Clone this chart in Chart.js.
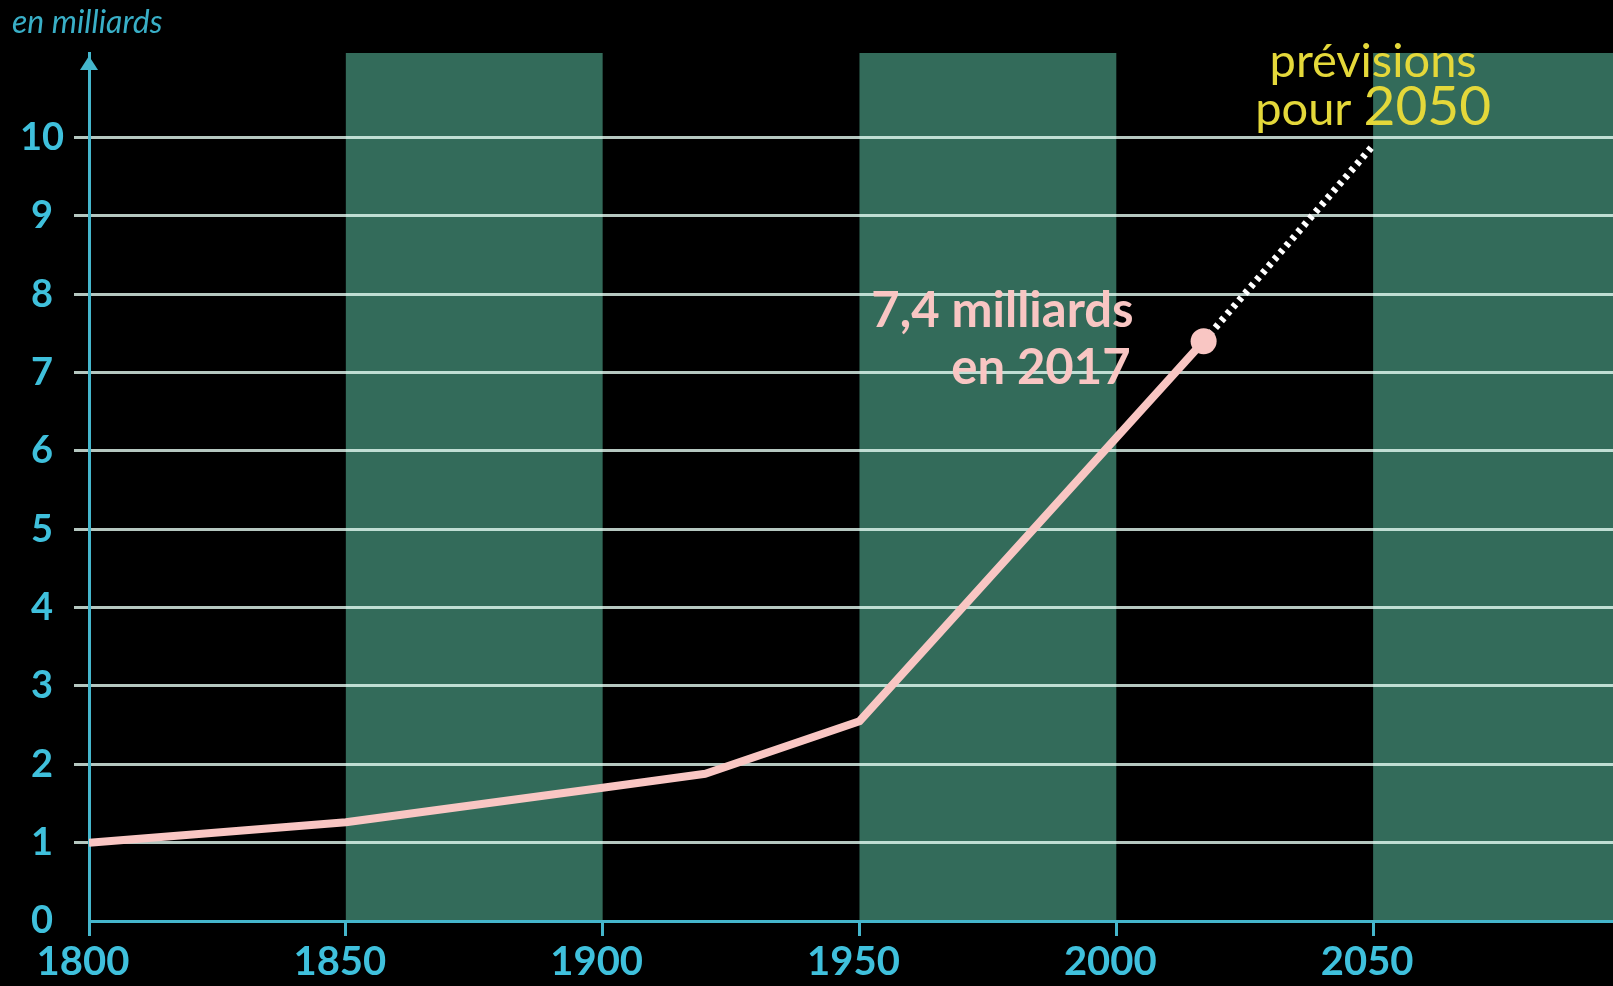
<!DOCTYPE html>
<html>
<head>
<meta charset="utf-8">
<script src="https://cdn.jsdelivr.net/npm/chart.js"></script>
<style>
  html, body { margin: 0; padding: 0; background: #000; }
  canvas { display: block; }
</style>
</head>
<body>
<canvas id="chart" width="1613" height="986"></canvas>
<script>
// population mondiale, en milliards
const years = [1800, 1850, 1900, 1920, 1950, 2017];
const population = [1.0, 1.26, 1.7, 1.88, 2.55, 7.4];
const forecastYears = [2017, 2050];
const forecastValues = [7.4, 9.9];

const xTicks = [1800, 1850, 1900, 1950, 2000, 2050];
const yTicks = [0, 1, 2, 3, 4, 5, 6, 7, 8, 9, 10];

// shaded periods
const bandStarts = [1850, 1950, 2050];
const bandEnds = [1900, 2000, 2100];

const cyan = '#3fc0dc';
const axisCyan = '#45b6cc';
const gridColor = 'rgba(232, 255, 246, 0.78)';
const bandColor = '#336b5a';
const pink = '#f9c6c3';
const yellow = '#e4d83a';

const bandsPlugin = {
    id: 'bands',
    beforeDraw(chart) {
        const { ctx, chartArea, scales } = chart;
        ctx.save();
        ctx.fillStyle = bandColor;
        bandStarts.forEach((start, i) => {
            const x1 = Math.max(scales.x.getPixelForValue(start), chartArea.left);
            const x2 = Math.min(scales.x.getPixelForValue(bandEnds[i]), chartArea.right);
            ctx.fillRect(x1, chartArea.top, x2 - x1, chartArea.bottom - chartArea.top);
        });
        ctx.restore();
    }
};

const notesPlugin = {
    id: 'notes',
    afterDraw(chart) {
        const { ctx, chartArea, scales } = chart;
        ctx.save();

        // arrow on the y axis
        const ax = chartArea.left;
        ctx.fillStyle = axisCyan;
        ctx.beginPath();
        ctx.moveTo(ax, chartArea.top + 3);
        ctx.lineTo(ax - 9, chartArea.top + 17);
        ctx.lineTo(ax + 9, chartArea.top + 17);
        ctx.closePath();
        ctx.fill();

        // unit
        ctx.fillStyle = '#39afc7';
        ctx.font = 'italic 32px Lato';
        ctx.textAlign = 'left';
        ctx.textBaseline = 'alphabetic';
        ctx.fillText('en milliards', 12, 33);

        // 2017 label
        const px = scales.x.getPixelForValue(2017);
        const py = scales.y.getPixelForValue(7.4);
        ctx.fillStyle = pink;
        ctx.font = 'bold 49px Lato';
        ctx.textAlign = 'right';
        ctx.fillText('7,4 milliards', px - 70, py - 14);
        ctx.fillText('en 2017', px - 73, py + 43);

        // forecast label
        const fx = scales.x.getPixelForValue(2050);
        ctx.fillStyle = yellow;
        ctx.textAlign = 'center';
        ctx.font = '47px Lato';
        ctx.fillText('prévisions', fx, 77);
        ctx.textAlign = 'left';
        const w1 = ctx.measureText('pour ').width;
        ctx.font = '55px Lato';
        const w2 = ctx.measureText('2050').width;
        const start = fx - (w1 + w2) / 2;
        ctx.font = '47px Lato';
        ctx.fillText('pour ', start, 125);
        ctx.font = '55px Lato';
        ctx.fillText('2050', start + w1, 125);

        ctx.restore();
    }
};

const lastIndex = years.length - 1;

new Chart(document.getElementById('chart'), {
    type: 'line',
    data: {
        datasets: [
            {
                data: years.map((y, i) => ({ x: y, y: population[i] })),
                borderColor: pink,
                borderWidth: 8,
                backgroundColor: pink,
                pointRadius: ctx => ctx.dataIndex === lastIndex ? 13 : 0,
                pointBorderWidth: 0,
                pointBackgroundColor: pink,
                borderJoinStyle: 'round',
                tension: 0
            },
            {
                data: forecastYears.map((y, i) => ({ x: y, y: forecastValues[i] })),
                borderColor: '#ffffff',
                borderWidth: 7,
                borderDash: [4, 5],
                borderCapStyle: 'butt',
                pointRadius: 0,
                tension: 0
            }
        ]
    },
    options: {
        responsive: false,
        animation: false,
        layout: {
            autoPadding: false,
            padding: { top: 53, right: 0, left: 0, bottom: 0 }
        },
        plugins: {
            legend: { display: false },
            tooltip: { enabled: false }
        },
        scales: {
            x: {
                type: 'linear',
                min: 1800,
                max: 2096.7,
                afterBuildTicks: scale => {
                    scale.ticks = xTicks.map(v => ({ value: v }));
                },
                afterFit: scale => {
                    scale.height = 65;
                    scale.paddingLeft = 0;
                    scale.paddingRight = 0;
                },
                ticks: {
                    color: cyan,
                    font: { family: 'Lato', size: 40, weight: 'bold' },
                    padding: 2,
                    labelOffset: -6,
                    maxRotation: 0,
                    autoSkip: false,
                    callback: v => String(v)
                },
                grid: {
                    drawOnChartArea: false,
                    drawTicks: true,
                    tickLength: 15,
                    tickWidth: 3,
                    color: axisCyan
                },
                border: { color: axisCyan, width: 3 }
            },
            y: {
                type: 'linear',
                min: 0,
                max: 11.08,
                afterBuildTicks: scale => {
                    scale.ticks = yTicks.map(v => ({ value: v }));
                },
                afterFit: scale => {
                    scale.width = 89;
                    scale.paddingTop = 0;
                    scale.paddingBottom = 0;
                },
                ticks: {
                    color: cyan,
                    font: { family: 'Lato', size: 38, weight: 'bold' },
                    padding: 10,
                    crossAlign: 'center',
                    callback: v => String(v)
                },
                grid: {
                    drawTicks: true,
                    tickLength: 15,
                    lineWidth: 3,
                    color: ctx => ctx.tick && ctx.tick.value === 0 ? 'rgba(0,0,0,0)' : gridColor
                },
                border: { color: axisCyan, width: 3 }
            }
        }
    },
    plugins: [bandsPlugin, notesPlugin]
});
</script>
</body>
</html>
